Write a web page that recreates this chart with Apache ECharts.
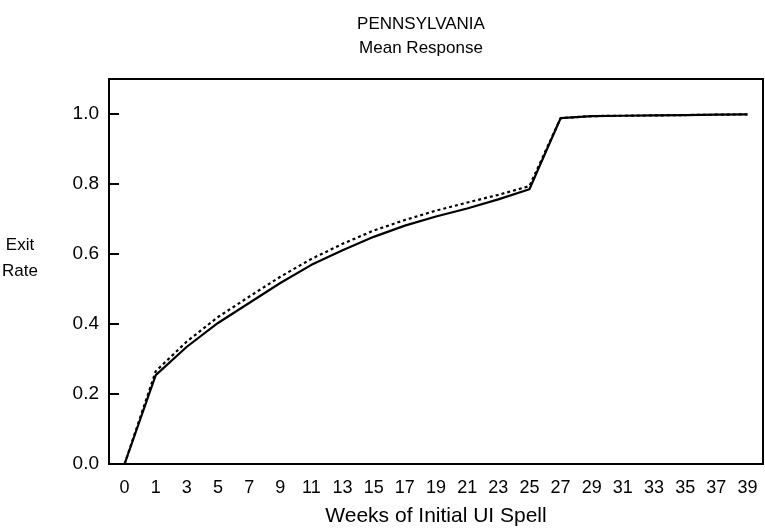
<!DOCTYPE html>
<html>
<head>
<meta charset="utf-8">
<script src="https://cdn.jsdelivr.net/npm/echarts@6/dist/echarts.min.js"></script>
<style>html,body{margin:0;padding:0;background:#fff}#c{width:765px;height:529px}</style>
</head>
<body>
<div id="c"></div>
<script>
const weeks = ['0','1','3','5','7','9','11','13','15','17','19','21','23','25','27','29','31','33','35','37','39'];
const solidSeries = [0, 0.254, 0.335, 0.403, 0.460, 0.517, 0.569, 0.611, 0.649, 0.681, 0.707, 0.730, 0.756, 0.785, 0.988, 0.994, 0.995, 0.996, 0.997, 0.998, 0.999];
const dottedSeries = [0, 0.265, 0.350, 0.420, 0.478, 0.535, 0.586, 0.629, 0.667, 0.697, 0.724, 0.747, 0.769, 0.794, 0.988, 0.994, 0.995, 0.996, 0.997, 0.998, 0.999];
const titleLines = ['PENNSYLVANIA', 'Mean Response'];
const xName = 'Weeks of Initial UI Spell';
const yName = 'Exit\nRate';

const font = 'Liberation Sans, Arial, sans-serif';
const chart = echarts.init(document.getElementById('c'));
chart.setOption({
  animation: false,
  backgroundColor: '#fff',
  title: {
    text: titleLines.join('\n'),
    left: 416, top: 7, textAlign: 'center',
    textStyle: { fontFamily: font, fontSize: 17, fontWeight: 'normal', color: '#000', lineHeight: 24 }
  },
  graphic: [{
    type: 'text', x: 20, y: 258,
    style: { text: yName, fontFamily: font, fontSize: 17, fill: '#000', lineHeight: 26, align: 'center', verticalAlign: 'middle' }
  }],
  grid: { left: 109, right: 2, top: 79, bottom: 65, outerBoundsMode: 'none', containLabel: false, show: true, borderColor: '#000', borderWidth: 2, backgroundColor: 'transparent' },
  xAxis: {
    type: 'category', data: weeks, boundaryGap: true,
    name: xName, nameLocation: 'middle', nameGap: 42,
    nameTextStyle: { fontFamily: font, fontSize: 21, color: '#000' },
    axisLine: { lineStyle: { color: '#000', width: 2 } },
    axisTick: { inside: true, length: 9, alignWithLabel: true, lineStyle: { color: '#000', width: 2 } },
    axisLabel: { fontFamily: font, fontSize: 18, color: '#000', margin: 15, interval: 0 },
    splitLine: { show: false }
  },
  yAxis: {
    type: 'value', min: 0, max: 1.1, interval: 0.2,
    axisLine: { show: true, lineStyle: { color: '#000', width: 2 } },
    axisTick: { show: true, inside: true, length: 10, lineStyle: { color: '#000', width: 2 } },
    axisLabel: { fontFamily: font, fontSize: 19, color: '#000', margin: 10, showMaxLabel: false,
      formatter: v => v > 1.05 ? '' : v.toFixed(1) },
    splitLine: { show: false }
  },
  series: [
    { type: 'line', data: solidSeries, symbol: 'none', lineStyle: { color: '#000', width: 2.2 }, z: 3 },
    { type: 'line', data: dottedSeries, symbol: 'none', lineStyle: { color: '#000', width: 2.2, type: [3, 3] }, z: 2 }
  ]
});
</script>
</body>
</html>
